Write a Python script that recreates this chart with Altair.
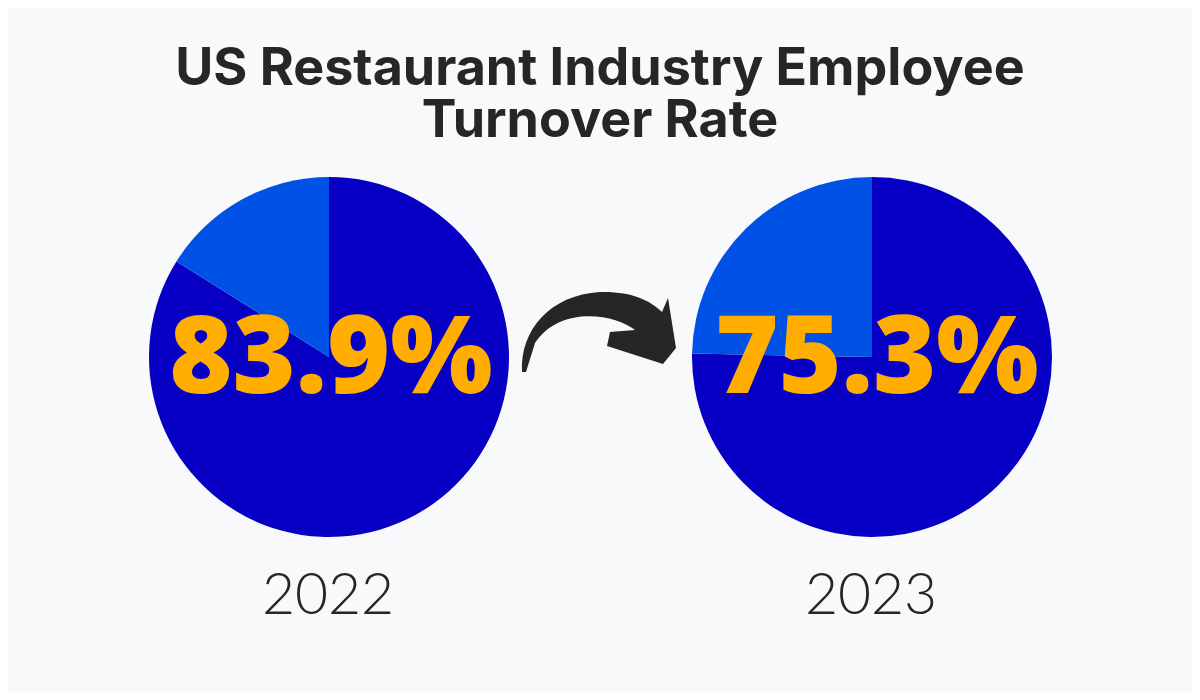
import altair as alt
import pandas as pd

# ---- data ----
title_lines = ["US Restaurant Industry Employee", "Turnover Rate"]
years = ["2022", "2023"]
turnover = [83.9, 75.3]
remainder = [16.1, 24.7]
labels = ["83.9%", "75.3%"]

rows = []
for yr, t, r in zip(years, turnover, remainder):
    rows.append({"year": yr, "part": "Turnover", "value": t, "order": 1})
    rows.append({"year": yr, "part": "Other", "value": r, "order": 2})
pie_df = pd.DataFrame(rows)
lab_df = pd.DataFrame({"year": years, "label": labels})
title_df = pd.DataFrame({"title": ["\n".join(title_lines)]})

# ---- layout (page px minus 8px body margin) ----
OFF = 8
W, H = 1200 - 2 * OFF, 700 - 2 * OFF
pie_cx = {"2022": 329 - OFF, "2023": 872 - OFF}
num_cx = {"2022": 331 - OFF, "2023": 877 - OFF}
year_cx = {"2022": 328 - OFF, "2023": 871 - OFF}
CY = 357 - OFF
R = 180

DARK = "#0700C4"
LIGHT = "#0052E6"
ORANGE = "#FFAE00"
INK = "#262626"
BG = "#F8F9FB"

color = alt.Color("part:N", scale=alt.Scale(domain=["Turnover", "Other"], range=[DARK, LIGHT]), legend=None)

layers = []
for yr in years:
    layers.append(
        alt.Chart(pie_df).transform_filter(alt.datum.year == yr)
        .mark_arc(outerRadius=R)
        .encode(theta=alt.Theta("value:Q", stack=True),
                order=alt.Order("order:Q"),
                color=color,
                x=alt.value(pie_cx[yr]), y=alt.value(CY))
    )

for yr in years:
    layers.append(
        alt.Chart(lab_df).transform_filter(alt.datum.year == yr)
        .mark_text(font="Open Sans", fontWeight=800, fontSize=108, color=ORANGE, baseline="alphabetic", align="center")
        .encode(text="label:N", x=alt.value(num_cx[yr]), y=alt.value(393 - OFF))
    )
    layers.append(
        alt.Chart(lab_df).transform_filter(alt.datum.year == yr)
        .mark_text(font="Lato", fontWeight=300, fontSize=57, color=INK, baseline="alphabetic", align="center")
        .encode(text="year:N", x=alt.value(year_cx[yr]), y=alt.value(614 - OFF))
    )

layers.append(
    alt.Chart(title_df)
    .mark_text(font="Inter", fontWeight=700, fontSize=52, lineHeight=52, lineBreak="\n",
               color=INK, baseline="alphabetic", align="center")
    .encode(text="title:N", x=alt.value(600 - OFF), y=alt.value(85 - OFF))
)

# decorative curved arrow (custom symbol path, in px around its anchor)
arrow_path = ("M -76 40 C -78 -2 -48 -37 2 -40 C 32 -41 52 -32 64 -20 "
              "L 70 -34 L 78 16 L 65 32 L 9 14 L 12 0 L 37 -2 "
              "C 17 -18 -38 -27 -63 11 L -72 40 Z")
layers.append(
    alt.Chart(pd.DataFrame({"a": [0]}))
    .mark_point(shape=arrow_path, size=4, filled=True, fill=INK, strokeWidth=0, opacity=1)
    .encode(x=alt.value(598 - OFF), y=alt.value(332 - OFF))
)

chart = alt.layer(*layers).properties(
    width=W, height=H, background=BG, padding=0,
    autosize=alt.AutoSizeParams(type="none")
).configure_view(stroke=None)

chart.save("out.html", embed_options={"renderer": "svg", "actions": False})
